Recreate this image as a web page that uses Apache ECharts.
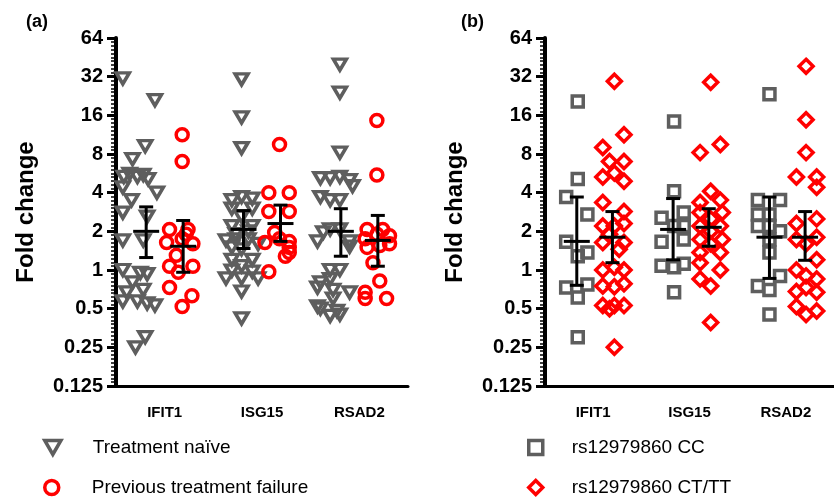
<!DOCTYPE html>
<html lang="en">
<head>
<meta charset="UTF-8">
<title>Fold change dot plots</title>
<script src="https://cdn.jsdelivr.net/npm/echarts@6/dist/echarts.min.js"></script>
<style>
  body { margin: 0; background: #fff; }
  #main { width: 834px; height: 497px; }
</style>
</head>
<body>
<div id="main"></div>
<script>
// genes on the x axis
var genes = ['IFIT1', 'ISG15', 'RSAD2'];

// points as [x position on 0..3 band scale, fold change]
var naive = [
  [0.07,31],[0.40,21],[0.30,9.2],[0.17,7.3],[0.08,5.3],[0.14,5.6],[0.22,5.3],[0.28,5.5],[0.33,5.1],[0.42,4.0],
  [0.07,4.4],[0.16,3.5],[0.07,2.8],[0.32,2.6],[0.07,1.7],[0.28,1.7],[0.07,1.0],[0.25,0.95],[0.32,0.93],[0.17,0.8],
  [0.11,0.67],[0.28,0.7],[0.07,0.57],[0.22,0.57],[0.32,0.55],[0.40,0.53],[0.20,0.25],[0.30,0.3],
  [1.29,30.5],[1.29,15.4],[1.29,8.9],[1.29,3.7],[1.19,3.5],[1.40,3.6],[1.19,3.0],[1.40,3.0],[1.29,2.6],[1.19,2.2],
  [1.40,2.2],[1.23,1.9],[1.36,2.0],[1.23,1.73],[1.36,1.73],[1.13,1.7],[1.46,1.6],[1.19,1.5],[1.29,1.45],[1.19,1.2],
  [1.40,1.2],[1.29,1.07],[1.19,0.99],[1.40,0.97],[1.13,0.86],[1.29,0.86],[1.46,0.86],[1.29,0.68],[1.29,0.42],
  [2.30,39.7],[2.30,24],[2.30,8.2],[2.10,5.2],[2.20,5.2],[2.30,5.3],[2.43,4.5],[2.10,3.7],[2.20,3.5],[2.30,3.5],
  [2.40,5.0],[2.20,2.07],[2.30,2.07],[2.13,1.96],[2.07,1.67],[2.40,1.67],[2.40,1.52],[2.20,1.0],[2.30,1.0],[2.20,0.85],
  [2.10,0.8],[2.07,0.73],[2.23,0.7],[2.40,0.67],[2.23,0.6],[2.10,0.5],[2.20,0.44],[2.30,0.45],[2.27,0.48],[2.07,0.52]
];
var failure = [
  [0.68,11.3],[0.68,7.0],[0.55,2.07],[0.74,2.07],[0.52,1.64],[0.68,1.75],[0.79,1.6],[0.55,1.07],[0.79,1.07],[0.64,0.96],
  [0.55,0.73],[0.78,0.63],[0.68,0.52],[0.72,1.9],[0.62,1.3],
  [1.68,9.5],[1.57,4.0],[1.78,4.0],[1.57,2.85],[1.78,2.85],[1.63,1.96],[1.53,1.64],[1.78,1.67],[1.78,1.5],[1.78,1.37],
  [1.68,1.75],[1.74,1.28],[1.57,0.97],
  [2.68,14.6],[2.68,5.5],[2.58,2.07],[2.74,2.07],[2.68,1.9],[2.81,1.85],[2.56,1.75],[2.81,1.6],[2.58,1.5],[2.71,1.55],
  [2.64,1.14],[2.71,0.82],[2.56,0.67],[2.56,0.6],[2.78,0.6]
];
var cc = [
  [0.34,20.5],[0.34,5.1],[0.22,3.7],[0.44,2.7],[0.22,1.66],[0.44,1.37],[0.34,1.28],[0.44,0.77],[0.22,0.73],[0.34,0.61],[0.34,0.3],
  [1.34,14.3],[1.34,4.1],[1.21,2.55],[1.44,2.8],[1.34,2.2],[1.44,2.2],[1.21,1.66],[1.44,1.73],[1.21,1.08],[1.34,1.05],[1.44,1.12],[1.34,0.67],
  [2.33,23.3],[2.21,3.5],[2.44,3.5],[2.21,2.7],[2.33,2.7],[2.21,2.2],[2.33,2.2],[2.44,2.0],[2.33,1.73],[2.33,1.37],[2.44,0.9],[2.21,0.75],[2.33,0.7],[2.33,0.45]
];
var cttt = [
  [0.72,29.5],[0.82,11.3],[0.60,9.0],[0.67,7.0],[0.82,7.0],[0.72,5.7],[0.60,5.3],[0.82,4.9],[0.60,3.35],[0.82,2.85],
  [0.60,2.2],[0.72,2.2],[0.82,2.3],[0.67,1.9],[0.60,1.64],[0.82,1.64],[0.77,1.45],[0.60,1.0],[0.72,1.05],[0.82,1.0],
  [0.60,0.75],[0.72,0.74],[0.82,0.78],[0.60,0.53],[0.67,0.5],[0.72,0.53],[0.82,0.53],[0.72,0.25],
  [1.72,29],[1.61,8.2],[1.82,9.5],[1.72,4.1],[1.61,3.35],[1.82,3.5],[1.61,2.8],[1.84,2.8],[1.72,2.5],[1.61,2.2],
  [1.82,2.2],[1.72,2.0],[1.61,1.73],[1.84,1.73],[1.72,1.6],[1.61,1.37],[1.82,1.37],[1.61,1.14],[1.82,1.0],[1.61,0.85],
  [1.72,0.75],[1.72,0.39],
  [2.71,38.5],[2.71,14.8],[2.71,8.2],[2.61,5.3],[2.82,5.3],[2.82,4.4],[2.61,2.3],[2.82,2.5],[2.61,1.73],[2.82,1.8],
  [2.71,1.6],[2.82,1.2],[2.61,1.0],[2.71,0.9],[2.82,0.85],[2.61,0.68],[2.71,0.73],[2.82,0.67],[2.61,0.52],[2.71,0.45],[2.82,0.48]
];

// mean and interval per gene: [mean, low, high]
var naiveErr   = [[2.0,1.25,3.1],[2.07,1.47,2.9],[2.0,1.28,3.0]];
var failureErr = [[1.53,0.96,2.43],[2.3,1.67,3.2],[1.7,1.07,2.66]];
var ccErr      = [[1.67,0.76,3.7],[2.07,1.2,3.6],[1.8,0.86,3.7]];
var ctttErr    = [[1.8,1.14,2.85],[2.15,1.53,3.0],[1.8,1.19,2.85]];

var GRAY = '#5e5e5e', RED = '#ff0000';
var FONT = 'Liberation Sans, Arial, sans-serif';

var triPath = 'path://M0,0L10,0L5,8.66Z';
var sqPath = 'path://M0,0L10,0L10,10L0,10Z';
var diaPath = 'path://M5,0L10,5L5,10L0,5Z';

function errData(arr, shift) {
  return arr.map(function (e, i) { return [i + 0.5 + shift, e[0], e[1], e[2]]; });
}

function renderErr(params, api) {
  var x = api.value(0);
  var pm = api.coord([x, api.value(1)]);
  var pl = api.coord([x, api.value(2)]);
  var ph = api.coord([x, api.value(3)]);
  var st = { stroke: '#000', lineWidth: 3 };
  return {
    type: 'group',
    children: [
      { type: 'line', shape: { x1: pm[0], y1: pl[1], x2: pm[0], y2: ph[1] }, style: st },
      { type: 'line', shape: { x1: pm[0] - 7, y1: pl[1], x2: pm[0] + 7, y2: pl[1] }, style: st },
      { type: 'line', shape: { x1: pm[0] - 7, y1: ph[1], x2: pm[0] + 7, y2: ph[1] }, style: st },
      { type: 'line', shape: { x1: pm[0] - 13, y1: pm[1], x2: pm[0] + 13, y2: pm[1] }, style: st }
    ]
  };
}

function catAxis(g) {
  return {
    gridIndex: g, type: 'category', data: genes, boundaryGap: true, position: 'bottom',
    axisLine: { onZero: false, lineStyle: { color: '#000', width: 3 } },
    axisTick: { alignWithLabel: true, length: 10, lineStyle: { color: '#000', width: 2 } },
    axisLabel: { color: '#000', fontSize: 15, fontWeight: 'bold', fontFamily: FONT, margin: 19 }
  };
}
function bandAxis(g) {
  return { gridIndex: g, type: 'value', min: 0, max: 3, show: false };
}
function logAxis(g) {
  return {
    gridIndex: g, type: 'log', logBase: 2, min: 0.125, max: 64, interval: 1,
    name: 'Fold change', nameLocation: 'middle', nameGap: 78,
    nameTextStyle: { color: '#000', fontSize: 24, fontWeight: 'bold', fontFamily: FONT },
    axisLine: { show: true, onZero: false, lineStyle: { color: '#000', width: 4 } },
    axisTick: { show: true, length: 9, lineStyle: { color: '#000', width: 3 } },
    splitLine: { show: false },
    axisLabel: { color: '#000', fontSize: 20, fontWeight: 'bold', fontFamily: FONT, margin: 13,
      formatter: function (v) { return String(v); } }
  };
}
// exponent axis laid over the log axis, only to draw its minor ticks
function minorAxis(g) {
  return {
    gridIndex: g, type: 'value', position: 'left', offset: 0, min: -3, max: 6, interval: 1,
    axisLine: { show: false, onZero: false }, axisLabel: { show: false }, splitLine: { show: false },
    axisTick: { show: false },
    minorTick: { show: true, splitNumber: 10, length: 5, lineStyle: { color: '#000', width: 1.5 } }
  };
}

function dots(name, data, xi, yi, symbol, size, color) {
  return {
    name: name, type: 'scatter', xAxisIndex: xi, yAxisIndex: yi, data: data,
    symbol: symbol, symbolSize: size,
    itemStyle: { color: 'rgba(0,0,0,0)', borderColor: color, borderWidth: 3.5, opacity: 1 },
    emphasis: { disabled: true }, z: 2
  };
}
function bars(data, xi, yi) {
  return { type: 'custom', xAxisIndex: xi, yAxisIndex: yi, data: data, renderItem: renderErr, z: 5, silent: true };
}

function legendItem(name, icon, left, top, width) {
  return {
    data: [{ name: name, icon: icon }], left: left, top: top, padding: 0,
    itemWidth: width, itemHeight: 14, selectedMode: false,
    textStyle: { color: '#000', fontSize: 19, fontFamily: FONT },
    itemStyle: { borderWidth: 3.5 }
  };
}

var chart = echarts.init(document.getElementById('main'));
chart.setOption({
  animation: false,
  backgroundColor: '#fff',
  title: [
    { text: '(a)', left: 26, top: 13, padding: 0, textStyle: { fontSize: 18, fontWeight: 'bold', color: '#000', fontFamily: FONT } },
    { text: '(b)', left: 461, top: 13, padding: 0, textStyle: { fontSize: 18, fontWeight: 'bold', color: '#000', fontFamily: FONT } }
  ],
  grid: [
    { left: 116, top: 38, width: 292, height: 348 },
    { left: 545, top: 38, width: 292, height: 348 }
  ],
  xAxis: [catAxis(0), bandAxis(0), catAxis(1), bandAxis(1)],
  yAxis: [logAxis(0), logAxis(1), minorAxis(0), minorAxis(1)],
  legend: [
    legendItem('Treatment naïve', triPath, 43, 438, 70),
    legendItem('Previous treatment failure', 'circle', 43, 478, 70),
    legendItem('rs12979860 CC', sqPath, 527, 438, 62),
    legendItem('rs12979860 CT/TT', diaPath, 527, 478, 62)
  ],
  series: [
    dots('Treatment naïve', naive, 1, 0, triPath, [13, 11], GRAY),
    dots('Previous treatment failure', failure, 1, 0, 'circle', 12, RED),
    dots('rs12979860 CC', cc, 3, 1, sqPath, 11, GRAY),
    dots('rs12979860 CT/TT', cttt, 3, 1, diaPath, 14, RED),
    bars(errData(naiveErr, -0.19), 1, 0),
    bars(errData(failureErr, 0.19), 1, 0),
    bars(errData(ccErr, -0.17), 3, 1),
    bars(errData(ctttErr, 0.2), 3, 1)
  ]
});
</script>
</body>
</html>
